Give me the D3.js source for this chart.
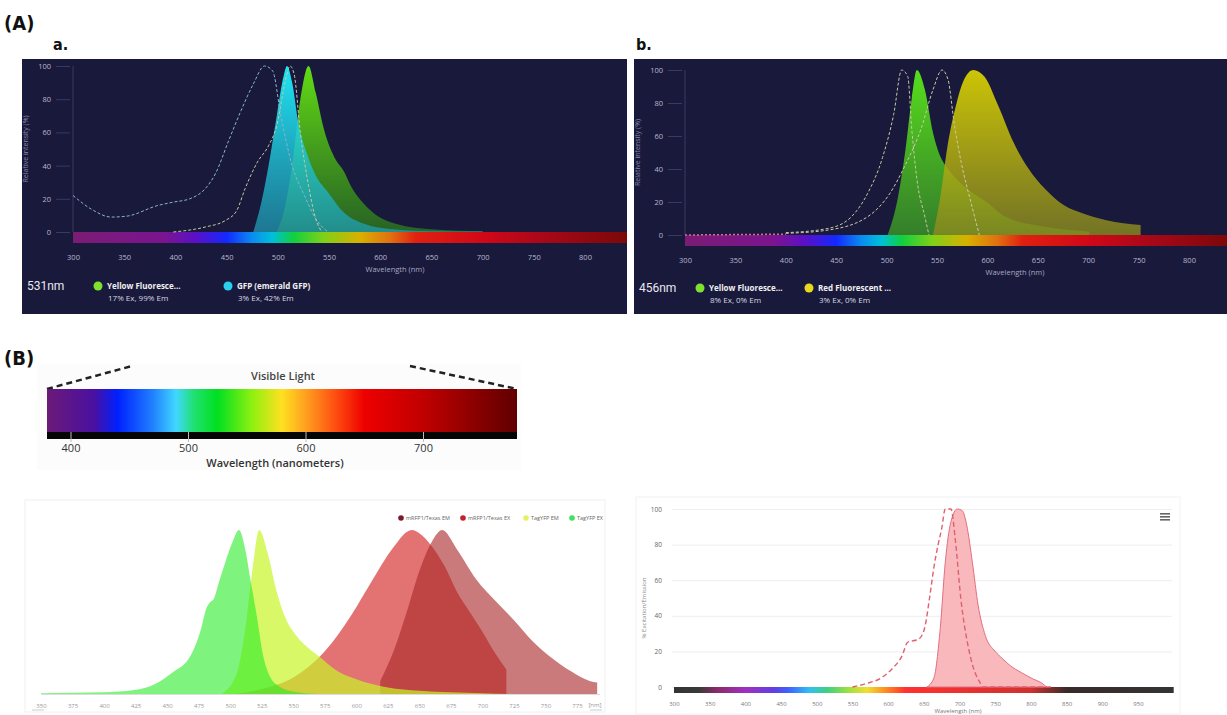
<!DOCTYPE html>
<html><head><meta charset="utf-8">
<script src="https://cdn.jsdelivr.net/npm/d3@7"></script>
<style>body{margin:0;background:#fff}svg{display:block}</style>
</head><body><svg id="c" width="1227" height="715"></svg>
<script>
// ---------- DATA ----------
const intensityTicks = [0, 20, 40, 60, 80, 100];
const topWavelengthTicks = [300, 350, 400, 450, 500, 550, 600, 650, 700, 750, 800];
// Panel a (531nm)
const aGfpEx = [[300,22],[320,13],[337,9],[352,9.5],[383,16],[398,18],[414,20],[429,26],[439,35],[452,55],[464,73],[476,89],[487,100],[495,97],[503,70],[514,40],[526,22],[537,8],[549,0]];
const aYfpEx = [[398,0],[429,3],[449,7],[460,13],[468,26],[480,42],[491,52],[499,64],[507,90],[512,100],[516,95],[522,60],[530,28],[537,8],[543,0]];
const aGfpEm = [[476,0],[484,18],[491,40],[499,70],[505,92],[509,100],[514,90],[520,66],[528,48],[537,34],[549,24],[564,12],[584,5],[615,1.5],[650,0.5],[700,0.3]];
const aYfpEm = [[499,0],[507,15],[514,40],[522,80],[530,100],[537,84],[545,62],[557,43],[564,37],[572,27],[584,17],[599,9],[615,5],[653,1.5],[700,0.5]];
const aLegend = [["Yellow Fluoresce...", "17% Ex, 99% Em"], ["GFP (emerald GFP)", "3% Ex, 42% Em"]];
// Panel b (456nm)
const bYfpEx = [[400,1.4],[442,4],[465,11],[481,25],[496,47],[507,73],[515,100],[521,96],[525,64],[530,34],[538,11],[542,0]];
const bRfpExTail = [[300,0],[400,0.5]];
const bRfpEx = [[400,1],[442,3],[481,11],[503,25],[519,43],[534,64],[546,88],[555,100],[561,94],[567,68],[574,44],[584,19],[592,0]];
const bYfpEm = [[501,0],[511,22],[519,53],[525,83],[530,100],[538,88],[546,62],[553,48],[561,40],[580,28],[599,20],[618,11],[657,5],[701,2]];
const bRfpEm = [[546,0],[553,22],[561,56],[569,79],[576,93],[586,100],[597,96],[611,78],[626,56],[641,40],[657,28],[676,18],[695,13],[718,9],[752,6]];
const bLegend = [["Yellow Fluoresce...", "8% Ex, 0% Em"], ["Red Fluorescent ...", "3% Ex, 0% Em"]];
// Visible light
const visibleTicks = [400, 500, 600, 700];
// Bottom-left chart
const blTicks = [350,375,400,425,450,475,500,525,550,575,600,625,650,675,700,725,750,775];
const blLegend = ["mRFP1/Texas EM", "mRFP1/Texas EX", "TagYFP EM", "TagYFP EX"];
const tagYfpEx = [[350,0.5],[400,1],[424,2.4],[440,6],[454,13],[469,24],[477,40],[481,52],[484,56],[487,58],[491,68],[496,80],[502,93],[507,100],[512,88],[516,70],[521,48],[526,24],[532,10],[538,5],[550,1.5],[570,0]];
const tagYfpEm = [[493,0],[505,12],[512,40],[518,78],[523,100],[530,85],[537,62],[544,46],[552,36],[562,28],[572,22],[585,14],[600,9],[625,4],[650,2],[700,0.5],[725,0]];
const rfpEx = [[503,0],[525,3],[550,10],[575,26],[596,48],[614,71],[629,89],[644,100],[650,98],[660,90],[670,78],[680,62],[690,50],[700,38],[710,25],[719,15]];
const rfpEm = [[619,8],[630,27],[640,50],[650,75],[660,93],[668,100],[680,88],[695,70],[710,57],[725,45],[740,32],[755,22],[770,14],[785,8],[791,7]];
// Bottom-right chart
const brXTicks = [300,350,400,450,500,550,600,650,700,750,800,850,900,950];
const brEx = [[550,0],[570,2],[590,5],[605,10],[620,18],[627,25],[643,27],[651,33],[658,50],[664,67],[670,80],[675,89],[680,100],[688,100],[694,83],[702,49],[712,23],[720,10],[728,3],[733,0],[830,0]];
const brEm = [[654,0],[664,5],[673,33],[680,70],[688,93],[697,100],[704,99],[710,91],[718,70],[726,46],[736,29],[750,20],[760,16],[771,12],[787,8],[803,4.5],[814,2.5],[822,0]];
// spectrum colour stops
const darkSpectrum = [[300,'#7b1c74'],[390,'#7a1490'],[420,'#5a10c8'],[450,'#1428ff'],[475,'#0a8cf0'],[495,'#00c0d8'],[515,'#10d040'],[545,'#80d018'],[580,'#d8b000'],[610,'#e07010'],[635,'#e02010'],[700,'#d00818'],[760,'#a80818'],[845,'#7a0808']];
const visibleSpectrum = [[380,'#6b1a78'],[420,'#4a10a0'],[440,'#0020ff'],[470,'#2080ff'],[490,'#40d8ff'],[505,'#20e070'],[525,'#00e020'],[555,'#90f010'],[580,'#ffe020'],[600,'#ffa020'],[625,'#ff5010'],[650,'#ee0000'],[700,'#c00000'],[740,'#900000'],[780,'#600000']];
const lightSpectrum = [[300,'#333333'],[335,'#3a3a3a'],[360,'#8a2a6a'],[400,'#a030c0'],[440,'#6040e0'],[460,'#4060ff'],[490,'#30c0f0'],[515,'#40d080'],[545,'#a0e040'],[570,'#f0e030'],[600,'#ff8020'],[625,'#ff3030'],[700,'#ee3030'],[800,'#d03030'],[850,'#3a2a2a'],[1000,'#333333']];

// ---------- DRAW ----------
const svg = d3.select('#c');
const defs = svg.append('defs');
const FONT = 'Open Sans, Lato, sans-serif';

function hGrad(id, stops, x) {
  const lo = stops[0][0], hi = stops[stops.length-1][0];
  const g = defs.append('linearGradient').attr('id', id).attr('gradientUnits','userSpaceOnUse')
    .attr('x1', x(lo)).attr('x2', x(hi)).attr('y1',0).attr('y2',0);
  stops.forEach(s => g.append('stop').attr('offset', (s[0]-lo)/(hi-lo)).attr('stop-color', s[1]));
}
function vGrad(id, top, bottom, topOp, botOp) {
  const g = defs.append('linearGradient').attr('id', id).attr('x1',0).attr('x2',0).attr('y1',0).attr('y2',1);
  g.append('stop').attr('offset',0).attr('stop-color',top).attr('stop-opacity',topOp);
  g.append('stop').attr('offset',1).attr('stop-color',bottom).attr('stop-opacity',botOp);
}

svg.append('rect').attr('width',1227).attr('height',715).attr('fill','#fff');
svg.append('text').attr('x',4).attr('y',30).text('(A)').attr('font-family','DejaVu Sans Condensed, DejaVu Sans').attr('font-weight','bold').attr('font-size',20).attr('fill','#111');
svg.append('text').attr('x',4).attr('y',365).text('(B)').attr('font-family','DejaVu Sans Condensed, DejaVu Sans').attr('font-weight','bold').attr('font-size',20).attr('fill','#111');

function darkPanel(cfg) {
  const g = svg.append('g');
  g.append('text').attr('x', cfg.letterX).attr('y', 50).text(cfg.letter)
    .attr('font-family','DejaVu Sans Condensed, DejaVu Sans').attr('font-weight','bold').attr('font-size',16).attr('fill','#111');
  g.append('rect').attr('x',cfg.left).attr('y',59).attr('width',cfg.right-cfg.left).attr('height',255).attr('fill','#19193c');
  const clipId = 'clip'+cfg.letterX;
  defs.append('clipPath').attr('id',clipId).append('rect').attr('x',cfg.left).attr('y',59).attr('width',cfg.right-cfg.left).attr('height',255);
  const x = d3.scaleLinear().domain([300,800]).range([cfg.x300, cfg.x800]);
  const y = d3.scaleLinear().domain([0,100]).range([cfg.y0, cfg.y100]);
  const cg = g.append('g').attr('clip-path',`url(#${clipId})`);
  const ya = cg.append('g').attr('transform',`translate(${cfg.x300-3},0)`)
    .call(d3.axisLeft(y).tickValues(intensityTicks).tickSize(14).tickPadding(5));
  ya.select('.domain').remove();
  ya.selectAll('line').attr('stroke','#3a3a60');
  ya.selectAll('text').attr('fill','#b8b8cc').attr('font-size',7.5).attr('font-family',FONT);
  cg.append('line').attr('x1',cfg.x300).attr('x2',cfg.x300).attr('y1',y(100)).attr('y2',y(0)).attr('stroke','#3a3a60');
  cg.append('text').attr('transform',`translate(${cfg.left+6},${(y(0)+y(100))/2}) rotate(-90)`)
    .attr('text-anchor','middle').text('Relative intensity (%)').attr('font-size',7).attr('fill','#8a8aa8').attr('font-family',FONT);
  hGrad('spec'+cfg.letterX, darkSpectrum, x);
  cg.append('rect').attr('x',x(300)).attr('y',y(0)).attr('width',cfg.right - x(300)).attr('height',cfg.barH)
    .attr('fill',`url(#spec${cfg.letterX})`);
  const xa = cg.append('g').attr('transform',`translate(0,${cfg.tickY})`)
    .call(d3.axisBottom(x).tickValues(topWavelengthTicks).tickSize(0).tickPadding(0));
  xa.select('.domain').remove();
  xa.selectAll('text').attr('fill','#b8b8cc').attr('font-size',7.5).attr('font-family',FONT).attr('dy','0.32em');
  cg.append('text').attr('x',cfg.wlX).attr('y',cfg.tickY+14).attr('text-anchor','middle').text('Wavelength (nm)')
    .attr('font-size',7.5).attr('fill','#a8a8c0').attr('font-family',FONT);
  const area = d3.area().x(d=>x(d[0])).y0(y(0)).y1(d=>y(d[1])).curve(d3.curveMonotoneX);
  const line = d3.line().x(d=>x(d[0])).y(d=>y(d[1])).curve(d3.curveMonotoneX);
  cfg.fills.forEach(f => {
    vGrad(f.id, f.top, f.bottom, f.topOp, f.botOp);
    cg.append('path').datum(f.data).attr('d',area).attr('fill',`url(#${f.id})`);
  });
  cfg.dashes.forEach(d => {
    cg.append('path').datum(d.data).attr('d',line).attr('fill','none').attr('stroke',d.color)
      .attr('stroke-width',d.w || 1).attr('stroke-dasharray',d.dash || '3,2');
  });
  const ly = cfg.legendY;
  g.append('text').attr('x',cfg.left+5).attr('y',ly+4).text(cfg.laser).attr('font-size',12).attr('fill','#e8e8f0').attr('font-family','Roboto, sans-serif');
  cfg.legend.forEach((l,i) => {
    const lx = cfg.legX[i];
    g.append('circle').attr('cx',lx).attr('cy',ly).attr('r',4.5).attr('fill',cfg.legColors[i]);
    g.append('text').attr('x',lx+9).attr('y',ly+3).text(l[0]).attr('font-size',8).attr('font-weight','bold').attr('fill','#f0f0f0').attr('font-family',FONT);
    g.append('text').attr('x',lx+10).attr('y',ly+15).text(l[1]).attr('font-size',8).attr('fill','#d8d8e0').attr('font-family',FONT);
  });
}

darkPanel({letter:'a.', letterX:53, left:22, right:627, x300:73, x800:585, y0:232, y100:66, barH:11, tickY:258, wlX:395,
  legendY:286, laser:'531nm', legX:[98,228], legColors:['#7fe030','#2ad0f0'], legend:aLegend,
  fills:[
    {id:'aYfpEm', data:aYfpEm, top:'#66e612', bottom:'#2a7020', topOp:0.95, botOp:0.85},
    {id:'aGfpEm', data:aGfpEm, top:'#20f0ff', bottom:'#20a0b8', topOp:0.95, botOp:0.7}
  ],
  dashes:[{data:aGfpEx, color:'#8ab4cc'},{data:aYfpEx, color:'#c8c8a0'}]
});
darkPanel({letter:'b.', letterX:636, left:634, right:1227, x300:685, x800:1189, y0:235, y100:70, barH:11, tickY:261, wlX:1015,
  legendY:288, laser:'456nm', legX:[700,809], legColors:['#7fe030','#e8d820'], legend:bLegend,
  fills:[
    {id:'bYfpEm', data:bYfpEm, top:'#5ae81a', bottom:'#3a9028', topOp:0.95, botOp:0.85},
    {id:'bRfpEm', data:bRfpEm, top:'#e0d800', bottom:'#8a8a20', topOp:0.9, botOp:0.8}
  ],
  dashes:[{data:bYfpEx, color:'#c8c8a0'},{data:bRfpEx, color:'#d0c8a8'},{data:bRfpExTail, color:'#d07090', w:1.5, dash:'2,2'}]
});

// ---------- Visible light ----------
(function(){
  const g = svg.append('g');
  const x = d3.scaleLinear().domain([380,780]).range([47,517]);
  g.append('rect').attr('x',37).attr('y',364).attr('width',484).attr('height',106).attr('fill','#fcfcfc');
  g.append('line').attr('x1',x(380)).attr('y1',389).attr('x2',132).attr('y2',366).attr('stroke','#222').attr('stroke-width',2.5).attr('stroke-dasharray','6,4');
  g.append('line').attr('x1',410).attr('y1',366).attr('x2',x(780)).attr('y2',389).attr('stroke','#222').attr('stroke-width',2.5).attr('stroke-dasharray','6,4');
  g.append('text').attr('x',283).attr('y',380).attr('text-anchor','middle').text('Visible Light').attr('font-size',11).attr('font-weight','600').attr('fill','#444').attr('font-family',FONT);
  hGrad('visSpec', visibleSpectrum, x);
  g.append('rect').attr('x',x(380)).attr('y',389).attr('width',x(780)-x(380)).attr('height',43).attr('fill','url(#visSpec)');
  g.append('rect').attr('x',x(380)).attr('y',432).attr('width',x(780)-x(380)).attr('height',7).attr('fill','#050505');
  const xa = g.append('g').attr('transform','translate(0,432)')
    .call(d3.axisBottom(x).tickValues(visibleTicks).tickSize(10).tickPadding(2));
  xa.select('.domain').remove();
  xa.selectAll('line').attr('stroke','#bbb').attr('stroke-width',1);
  xa.selectAll('text').attr('font-size',11).attr('fill','#333').attr('font-family',FONT);
  g.append('text').attr('x',275).attr('y',467).attr('text-anchor','middle').text('Wavelength (nanometers)').attr('font-size',11).attr('font-weight','600').attr('fill','#333').attr('font-family',FONT);
})();

// ---------- Bottom-left chart ----------
(function(){
  const g = svg.append('g');
  const x = d3.scaleLinear().domain([350,775]).range([41,577]);
  const y = d3.scaleLinear().domain([0,100]).range([694,530]);
  g.append('rect').attr('x',25).attr('y',500).attr('width',580).attr('height',212).attr('fill','#fff').attr('stroke','#f0f0f0');
  const area = d3.area().x(d=>x(d[0])).y0(y(0)).y1(d=>y(d[1])).curve(d3.curveMonotoneX);
  const series = [
    {data:rfpEx, color:'rgb(215,55,55)', op:0.7},
    {data:rfpEm, color:'rgb(170,40,40)', op:0.62},
    {data:tagYfpEm, color:'rgb(200,245,40)', op:0.7},
    {data:tagYfpEx, color:'rgb(40,235,40)', op:0.6}
  ];
  series.forEach(s => g.append('path').datum(s.data).attr('d',area).attr('fill',s.color).attr('fill-opacity',s.op));
  g.append('line').attr('x1',41).attr('x2',600).attr('y1',694.5).attr('y2',694.5).attr('stroke','#ddd');
  const xa = g.append('g').attr('transform','translate(0,698)')
    .call(d3.axisBottom(x).tickValues(blTicks).tickSize(0).tickPadding(6));
  xa.select('.domain').remove();
  xa.selectAll('text').attr('font-size',6).attr('fill','#999').attr('font-family',FONT);
  g.append('text').attr('x',595).attr('y',707).attr('text-anchor','middle').text('[nm]').attr('font-size',6).attr('fill','#999').attr('font-family',FONT);
  g.append('line').attr('x1',32).attr('x2',44).attr('y1',710).attr('y2',710).attr('stroke','#ccc');
  g.append('line').attr('x1',590).attr('x2',602).attr('y1',710).attr('y2',710).attr('stroke','#ccc');
  const legCols = ['#7a1a2a','#c02030','#e6f060','#40e060'];
  const legX = [401,463,526,572];
  blLegend.forEach((t,i) => {
    g.append('circle').attr('cx',legX[i]).attr('cy',518).attr('r',2.8).attr('fill',legCols[i]);
    g.append('text').attr('x',legX[i]+5).attr('y',520).text(t).attr('font-size',5.5).attr('fill','#666').attr('font-family',FONT);
  });
})();

// ---------- Bottom-right chart ----------
(function(){
  const g = svg.append('g');
  const x = d3.scaleLinear().domain([300,950]).range([674,1138]);
  const y = d3.scaleLinear().domain([0,100]).range([687,509]);
  g.append('rect').attr('x',636).attr('y',497).attr('width',544).attr('height',217).attr('fill','#fff').attr('stroke','#f2f2f2');
  const ya = g.append('g').attr('transform','translate(672,0)')
    .call(d3.axisLeft(y).tickValues(intensityTicks).tickSize(-500).tickPadding(10));
  ya.select('.domain').remove();
  ya.selectAll('line').attr('stroke','#eeeeee');
  ya.selectAll('text').attr('font-size',6.5).attr('fill','#666').attr('font-family',FONT);
  g.append('text').attr('transform',`translate(646,${(y(0)+y(100))/2+10}) rotate(-90)`).attr('text-anchor','middle')
    .text('% Excitation/Emission').attr('font-size',6).attr('fill','#888').attr('font-family',FONT);
  hGrad('brSpec', lightSpectrum, x);
  g.append('rect').attr('x',x(300)).attr('y',687).attr('width',x(1000)-x(300)).attr('height',6).attr('fill','url(#brSpec)');
  const area = d3.area().x(d=>x(d[0])).y0(y(0)).y1(d=>y(d[1])).curve(d3.curveMonotoneX);
  const line = d3.line().x(d=>x(d[0])).y(d=>y(d[1])).curve(d3.curveMonotoneX);
  g.append('path').datum(brEm).attr('d',area).attr('fill','#f8b0b4').attr('fill-opacity',0.9).attr('stroke','#e07080').attr('stroke-width',1);
  g.append('path').datum(brEx).attr('d',line).attr('fill','none').attr('stroke','#e0606e').attr('stroke-width',1.4).attr('stroke-dasharray','5,3');
  const xa = g.append('g').attr('transform','translate(0,696)')
    .call(d3.axisBottom(x).tickValues(brXTicks).tickSize(0).tickPadding(6));
  xa.select('.domain').remove();
  xa.selectAll('text').attr('font-size',6).attr('fill','#777').attr('font-family',FONT);
  g.append('text').attr('x',958).attr('y',713).attr('text-anchor','middle').text('Wavelength (nm)').attr('font-size',6).attr('fill','#777').attr('font-family',FONT);
  [0,3,6].forEach(d => g.append('rect').attr('x',1160).attr('y',513+d).attr('width',10).attr('height',1.6).attr('fill','#666'));
})();
</script></body></html>
